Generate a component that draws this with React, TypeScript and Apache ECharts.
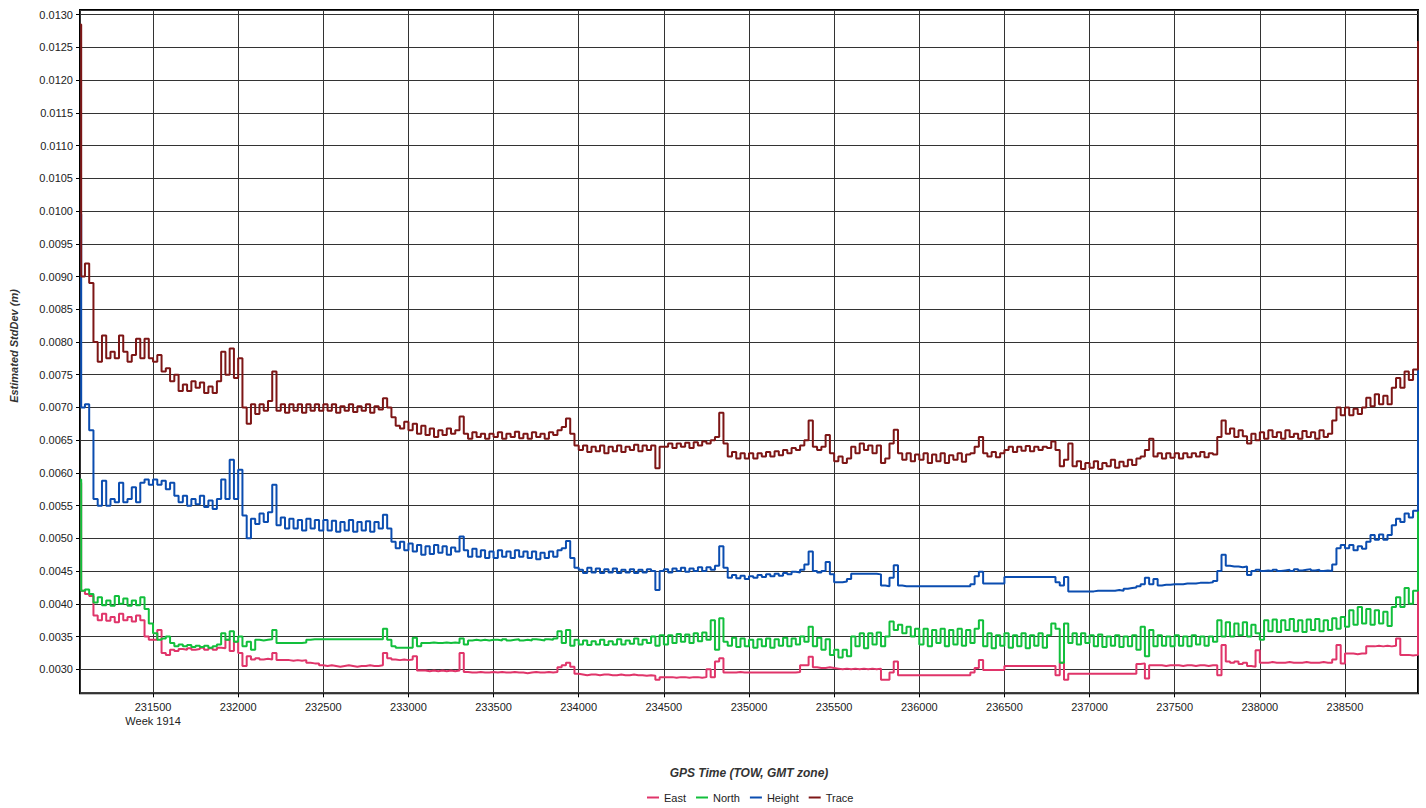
import React, { useEffect, useRef } from "react";
import * as echarts from "echarts";

// ---- data (values in millimetres, converted to metres for the chart) ----
const SERIES_NAMES = ["East", "North", "Height", "Trace"];
const SERIES_COLORS = ["#e0356a", "#12bf3c", "#0b4db0", "#7d1616"];

const X_MIN = 231071;
const X_MAX = 238929;
const Y_MIN = 0.002633;
const Y_MAX = 0.013072;
const WEEK_LABEL = "Week 1914";
const X_NAME = "GPS Time (TOW, GMT zone)";
const Y_NAME = "Estimated StdDev (m)";

const ROW_STARTS = [231100, 231500, 232000, 232500, 233000, 233500, 234000, 234500, 235000, 235500, 236000, 236500, 237000, 237500, 238000, 238500];
const SAMPLE_STEP = 25;

const EAST_HEAD = [[231072, 5.85], [231078, 4.2]];
const EAST_TAIL = [[238929, 5.05]];
const EAST_ROWS = [
  [4.15, 4.12, 3.82, 3.75, 3.85, 3.74, 3.8, 3.72, 3.85, 3.75, 3.8, 3.73, 3.82, 3.75, 3.5, 3.45],
  [3.45, 3.6, 3.25, 3.22, 3.3, 3.28, 3.31, 3.3, 3.32, 3.3, 3.31, 3.33, 3.3, 3.32, 3.3, 3.33, 3.32, 3.45, 3.28, 3.42],
  [3.25, 3.05, 3.2, 3.15, 3.17, 3.15, 3.16, 3.15, 3.25, 3.14, 3.14, 3.14, 3.13, 3.14, 3.13, 3.14, 3.1, 3.09, 3.09, 3.06],
  [3.05, 3.06, 3.05, 3.04, 3.05, 3.06, 3.05, 3.04, 3.05, 3.05, 3.06, 3.05, 3.05, 3.06, 3.25, 3.17, 3.15, 3.14, 3.15, 3.14],
  [3.15, 3.2, 2.98, 2.98, 2.97, 2.98, 2.97, 2.98, 2.97, 2.98, 2.97, 2.98, 3.25, 2.96, 2.95, 2.95, 2.96, 2.95, 2.95, 2.96],
  [2.95, 2.96, 2.95, 2.95, 2.96, 2.95, 2.95, 2.94, 2.95, 2.96, 2.95, 2.95, 2.96, 2.95, 2.96, 3.03, 3.06, 3.1, 3.04, 2.93],
  [2.92, 2.91, 2.92, 2.92, 2.91, 2.92, 2.92, 2.91, 2.91, 2.92, 2.91, 2.91, 2.92, 2.91, 2.91, 2.9, 2.91, 2.9, 2.84, 2.88],
  [2.88, 2.88, 2.87, 2.88, 2.88, 2.87, 2.88, 2.88, 2.87, 2.88, 3.0, 2.88, 3.12, 3.17, 2.95, 2.95, 2.95, 2.96, 2.95, 2.95],
  [2.95, 2.95, 2.95, 2.95, 2.95, 2.95, 2.95, 2.95, 2.95, 2.95, 2.95, 2.96, 3.06, 3.06, 3.19, 3.03, 3.02, 3.02, 3.03, 3.02],
  [3.01, 3.0, 3.01, 3.0, 3.01, 3.0, 3.01, 3.0, 3.01, 3.0, 3.01, 2.84, 2.84, 2.95, 3.12, 2.91, 2.91, 2.91, 2.91, 2.91],
  [2.91, 2.91, 2.91, 2.91, 2.91, 2.91, 2.91, 2.91, 2.91, 2.91, 2.91, 2.91, 2.95, 3.02, 3.14, 2.99, 2.99, 2.99, 2.99, 2.99],
  [3.05, 3.05, 3.05, 3.05, 3.05, 3.05, 3.05, 3.05, 3.05, 3.05, 3.05, 3.05, 2.91, 3.1, 2.84, 2.93, 2.93, 2.93, 2.93, 2.93],
  [2.93, 2.93, 2.93, 2.93, 2.93, 2.93, 2.93, 2.93, 2.93, 2.93, 2.93, 3.08, 3.09, 2.86, 3.06, 3.06, 3.06, 3.05, 3.06, 3.06],
  [3.06, 3.05, 3.06, 3.06, 3.05, 3.06, 3.06, 3.05, 3.06, 3.06, 2.91, 3.37, 3.12, 3.1, 3.12, 3.08, 3.1, 3.05, 3.04, 3.29],
  [3.1, 3.1, 3.11, 3.1, 3.1, 3.1, 3.11, 3.1, 3.1, 3.1, 3.11, 3.1, 3.1, 3.1, 3.11, 3.1, 3.1, 3.15, 3.37, 3.09],
  [3.24, 3.24, 3.23, 3.24, 3.24, 3.35, 3.35, 3.36, 3.35, 3.36, 3.35, 3.36, 3.47, 3.22, 3.22, 3.21, 3.22],
];

const NORTH_HEAD = [[231072, 5.9], [231078, 4.2]];
const NORTH_TAIL = [[238929, 6.75]];
const NORTH_ROWS = [
  [4.22, 4.15, 4.02, 4.1, 3.98, 4.05, 3.97, 4.12, 4.0, 4.08, 3.97, 4.05, 3.98, 4.1, 3.92, 3.7],
  [3.55, 3.45, 3.47, 3.5, 3.4, 3.35, 3.38, 3.35, 3.37, 3.34, 3.36, 3.34, 3.36, 3.33, 3.35, 3.38, 3.55, 3.45, 3.58, 3.42],
  [3.5, 3.35, 3.42, 3.3, 3.45, 3.44, 3.45, 3.46, 3.6, 3.4, 3.4, 3.4, 3.4, 3.4, 3.4, 3.41, 3.45, 3.46, 3.46, 3.46],
  [3.46, 3.46, 3.46, 3.46, 3.46, 3.46, 3.46, 3.46, 3.46, 3.46, 3.46, 3.46, 3.46, 3.46, 3.62, 3.45, 3.35, 3.33, 3.33, 3.33],
  [3.33, 3.48, 3.35, 3.4, 3.4, 3.41, 3.4, 3.4, 3.41, 3.4, 3.41, 3.4, 3.47, 3.38, 3.44, 3.45, 3.44, 3.45, 3.44, 3.45],
  [3.45, 3.44, 3.46, 3.44, 3.45, 3.46, 3.44, 3.45, 3.44, 3.46, 3.45, 3.44, 3.46, 3.45, 3.47, 3.58, 3.4, 3.6, 3.36, 3.45],
  [3.38, 3.44, 3.37, 3.43, 3.38, 3.45, 3.37, 3.43, 3.38, 3.46, 3.38, 3.44, 3.39, 3.47, 3.38, 3.45, 3.4, 3.5, 3.36, 3.52],
  [3.38, 3.52, 3.4, 3.54, 3.42, 3.53, 3.4, 3.55, 3.43, 3.56, 3.45, 3.75, 3.3, 3.78, 3.42, 3.36, 3.48, 3.34, 3.47, 3.35],
  [3.45, 3.33, 3.46, 3.35, 3.47, 3.33, 3.46, 3.36, 3.48, 3.35, 3.47, 3.38, 3.5, 3.42, 3.65, 3.35, 3.48, 3.3, 3.46, 3.22],
  [3.3, 3.18, 3.3, 3.2, 3.5, 3.35, 3.55, 3.32, 3.55, 3.38, 3.56, 3.35, 3.5, 3.73, 3.6, 3.68, 3.55, 3.65, 3.5, 3.62],
  [3.38, 3.62, 3.35, 3.6, 3.4, 3.62, 3.35, 3.6, 3.38, 3.62, 3.36, 3.6, 3.4, 3.62, 3.75, 3.35, 3.55, 3.32, 3.52, 3.36],
  [3.55, 3.33, 3.52, 3.35, 3.55, 3.32, 3.52, 3.36, 3.55, 3.33, 3.52, 3.7, 3.62, 3.1, 3.7, 3.4, 3.55, 3.38, 3.55, 3.4],
  [3.52, 3.35, 3.53, 3.34, 3.5, 3.36, 3.52, 3.34, 3.5, 3.35, 3.52, 3.3, 3.65, 3.2, 3.6, 3.35, 3.52, 3.36, 3.5, 3.35],
  [3.52, 3.36, 3.5, 3.35, 3.52, 3.38, 3.5, 3.36, 3.5, 3.42, 3.75, 3.5, 3.72, 3.5, 3.7, 3.52, 3.72, 3.5, 3.68, 3.55],
  [3.45, 3.75, 3.58, 3.76, 3.57, 3.75, 3.6, 3.77, 3.58, 3.75, 3.57, 3.76, 3.6, 3.77, 3.58, 3.75, 3.6, 3.78, 3.62, 3.8],
  [3.65, 3.9, 3.68, 3.95, 3.7, 3.92, 3.68, 3.9, 3.7, 3.88, 3.66, 3.95, 4.1, 3.95, 4.24, 4.0, 4.2],
];

const HEIGHT_HEAD = [[231072, 9.95], [231078, 7.0]];
const HEIGHT_TAIL = [[238929, 9.4]];
const HEIGHT_ROWS = [
  [7.05, 6.65, 5.6, 5.5, 5.88, 5.5, 5.6, 5.55, 5.85, 5.55, 5.6, 5.78, 5.55, 5.85, 5.9, 5.82],
  [5.9, 5.82, 5.88, 5.75, 5.85, 5.65, 5.55, 5.65, 5.5, 5.6, 5.52, 5.65, 5.48, 5.58, 5.45, 5.6, 5.9, 5.6, 6.2, 5.6],
  [6.05, 5.35, 5.0, 5.3, 5.22, 5.38, 5.25, 5.4, 5.82, 5.2, 5.32, 5.15, 5.3, 5.15, 5.28, 5.12, 5.3, 5.15, 5.28, 5.12],
  [5.28, 5.12, 5.27, 5.1, 5.25, 5.12, 5.28, 5.1, 5.25, 5.12, 5.26, 5.1, 5.25, 5.15, 5.36, 5.15, 4.95, 4.85, 4.95, 4.82],
  [4.92, 4.8, 4.9, 4.75, 4.88, 4.76, 4.9, 4.78, 4.88, 4.75, 4.86, 4.8, 5.03, 4.82, 4.72, 4.84, 4.72, 4.82, 4.7, 4.8],
  [4.7, 4.82, 4.72, 4.8, 4.7, 4.82, 4.72, 4.8, 4.7, 4.8, 4.68, 4.78, 4.7, 4.8, 4.72, 4.82, 4.85, 4.96, 4.7, 4.55],
  [4.52, 4.47, 4.55, 4.48, 4.54, 4.47, 4.53, 4.48, 4.54, 4.47, 4.52, 4.48, 4.53, 4.47, 4.52, 4.48, 4.53, 4.5, 4.21, 4.5],
  [4.53, 4.48, 4.54, 4.5, 4.55, 4.49, 4.54, 4.5, 4.56, 4.5, 4.56, 4.52, 4.58, 4.88, 4.55, 4.4, 4.44, 4.39, 4.43, 4.38],
  [4.42, 4.4, 4.44, 4.41, 4.45, 4.42, 4.46, 4.43, 4.47, 4.45, 4.49, 4.48, 4.52, 4.6, 4.8, 4.5, 4.48, 4.5, 4.64, 4.45],
  [4.33, 4.33, 4.34, 4.38, 4.46, 4.46, 4.46, 4.46, 4.46, 4.46, 4.45, 4.28, 4.27, 4.4, 4.59, 4.28, 4.27, 4.27, 4.27, 4.27],
  [4.27, 4.27, 4.27, 4.27, 4.27, 4.27, 4.27, 4.27, 4.27, 4.27, 4.27, 4.27, 4.3, 4.42, 4.49, 4.31, 4.31, 4.31, 4.31, 4.31],
  [4.41, 4.41, 4.41, 4.41, 4.41, 4.41, 4.41, 4.41, 4.41, 4.41, 4.41, 4.41, 4.33, 4.28, 4.41, 4.19, 4.19, 4.19, 4.19, 4.19],
  [4.19, 4.2, 4.2, 4.2, 4.2, 4.2, 4.21, 4.2, 4.23, 4.24, 4.25, 4.27, 4.3, 4.4, 4.3, 4.38, 4.28, 4.29, 4.29, 4.3],
  [4.3, 4.3, 4.31, 4.31, 4.31, 4.32, 4.32, 4.32, 4.33, 4.35, 4.5, 4.75, 4.58, 4.57, 4.57, 4.56, 4.57, 4.44, 4.5, 4.52],
  [4.5, 4.51, 4.5, 4.52, 4.5, 4.51, 4.52, 4.5, 4.53, 4.51, 4.52, 4.53, 4.51, 4.52, 4.5, 4.51, 4.5, 4.6, 4.85, 4.9],
  [4.85, 4.9, 4.82, 4.88, 4.84, 4.95, 5.05, 4.98, 5.06, 4.98, 5.05, 5.2, 5.3, 5.25, 5.38, 5.32, 5.42],
];

const TRACE_HEAD = [[231072, 12.85], [231078, 9.0]];
const TRACE_TAIL = [[238929, 12.6]];
const TRACE_ROWS = [
  [9.2, 8.9, 8.0, 7.7, 8.1, 7.75, 7.85, 7.75, 8.1, 7.85, 7.7, 7.8, 8.05, 7.75, 8.05, 7.75],
  [7.7, 7.8, 7.55, 7.6, 7.4, 7.5, 7.25, 7.35, 7.25, 7.4, 7.3, 7.38, 7.22, 7.32, 7.22, 7.4, 7.85, 7.5, 7.9, 7.45],
  [7.75, 7.0, 6.75, 7.05, 6.9, 7.05, 6.95, 7.1, 7.55, 6.95, 7.05, 6.92, 7.05, 6.95, 7.05, 6.92, 7.05, 6.95, 7.05, 6.95],
  [7.05, 6.95, 7.05, 6.92, 7.02, 6.95, 7.05, 6.93, 7.02, 6.95, 7.05, 6.92, 7.02, 6.97, 7.14, 7.0, 6.85, 6.72, 6.68, 6.78],
  [6.65, 6.75, 6.6, 6.72, 6.58, 6.68, 6.55, 6.65, 6.58, 6.68, 6.6, 6.65, 6.86, 6.6, 6.52, 6.62, 6.55, 6.6, 6.52, 6.6],
  [6.55, 6.62, 6.52, 6.6, 6.55, 6.63, 6.53, 6.6, 6.52, 6.62, 6.55, 6.6, 6.52, 6.62, 6.58, 6.65, 6.7, 6.83, 6.6, 6.42],
  [6.35, 6.42, 6.32, 6.4, 6.33, 6.42, 6.3, 6.4, 6.33, 6.42, 6.32, 6.4, 6.35, 6.43, 6.33, 6.42, 6.35, 6.42, 6.07, 6.4],
  [6.4, 6.45, 6.38, 6.45, 6.4, 6.46, 6.38, 6.47, 6.42, 6.48, 6.45, 6.5, 6.55, 6.92, 6.45, 6.25, 6.32, 6.22, 6.3, 6.22],
  [6.3, 6.22, 6.3, 6.25, 6.32, 6.25, 6.33, 6.27, 6.35, 6.3, 6.38, 6.35, 6.42, 6.5, 6.8, 6.4, 6.35, 6.4, 6.58, 6.3],
  [6.18, 6.25, 6.15, 6.22, 6.4, 6.3, 6.45, 6.35, 6.42, 6.3, 6.42, 6.15, 6.22, 6.45, 6.66, 6.3, 6.2, 6.3, 6.18, 6.28],
  [6.2, 6.3, 6.15, 6.28, 6.18, 6.3, 6.15, 6.27, 6.2, 6.3, 6.17, 6.28, 6.3, 6.4, 6.55, 6.3, 6.25, 6.32, 6.24, 6.3],
  [6.35, 6.4, 6.32, 6.4, 6.34, 6.41, 6.33, 6.4, 6.35, 6.4, 6.38, 6.48, 6.35, 6.1, 6.2, 6.45, 6.1, 6.18, 6.06, 6.15],
  [6.08, 6.18, 6.06, 6.15, 6.1, 6.2, 6.08, 6.17, 6.1, 6.2, 6.12, 6.22, 6.25, 6.35, 6.52, 6.25, 6.3, 6.22, 6.3, 6.23],
  [6.3, 6.22, 6.3, 6.24, 6.3, 6.25, 6.32, 6.24, 6.3, 6.28, 6.55, 6.8, 6.6, 6.68, 6.55, 6.65, 6.56, 6.45, 6.6, 6.5],
  [6.62, 6.52, 6.65, 6.55, 6.62, 6.52, 6.65, 6.55, 6.6, 6.52, 6.64, 6.55, 6.62, 6.52, 6.65, 6.55, 6.6, 6.8, 7.0, 6.88],
  [7.0, 6.88, 6.98, 6.9, 7.0, 7.15, 7.02, 7.2, 7.05, 7.18, 7.05, 7.3, 7.45, 7.3, 7.55, 7.42, 7.58],
];

function buildData(head: number[][], rows: number[][], tail: number[][]) {
  const pts: number[][] = [];
  head.forEach(([t, v]) => pts.push([t, v / 1000]));
  rows.forEach((row, r) => {
    row.forEach((v, j) => pts.push([ROW_STARTS[r] + j * SAMPLE_STEP, v / 1000]));
  });
  tail.forEach(([t, v]) => pts.push([t, v / 1000]));
  return pts;
}

const FONT = "Arial, 'Liberation Sans', sans-serif";

export default function App() {
  const ref = useRef<HTMLDivElement>(null);
  useEffect(() => {
    if (!ref.current) return;
    const chart = echarts.init(ref.current, undefined, { renderer: "svg" });
    const seriesData = [
      buildData(EAST_HEAD, EAST_ROWS, EAST_TAIL),
      buildData(NORTH_HEAD, NORTH_ROWS, NORTH_TAIL),
      buildData(HEIGHT_HEAD, HEIGHT_ROWS, HEIGHT_TAIL),
      buildData(TRACE_HEAD, TRACE_ROWS, TRACE_TAIL),
    ];
    chart.setOption({
      animation: false,
      backgroundColor: "#ffffff",
      grid: {
        left: 80,
        top: 10,
        right: 8,
        bottom: 114.7,
        show: true,
        borderColor: "#000",
        borderWidth: 2,
        backgroundColor: "transparent",
      },
      legend: {
        data: SERIES_NAMES,
        left: 642,
        top: 787,
        padding: 5,
        icon: "rect",
        itemWidth: 12,
        itemHeight: 2,
        itemGap: 10,
        textStyle: { fontFamily: FONT, fontSize: 11, color: "#222" },
      },
      xAxis: {
        type: "value",
        min: X_MIN,
        max: X_MAX,
        minInterval: 500,
        maxInterval: 500,
        axisLine: { show: false },
        axisTick: { show: true, length: 4, lineStyle: { color: "#000" } },
        axisLabel: {
          showMinLabel: false,
          showMaxLabel: false,
          margin: 7,
          fontFamily: FONT,
          fontSize: 11,
          color: "#222",
          lineHeight: 14,
          formatter: (v: number) => (Math.round(v) === 231500 ? `${Math.round(v)}\n${WEEK_LABEL}` : String(Math.round(v))),
        },
        splitLine: { show: true, lineStyle: { color: "#333", width: 1 } },
      },
      yAxis: {
        type: "value",
        min: Y_MIN,
        max: Y_MAX,
        minInterval: 0.0005,
        maxInterval: 0.0005,
        axisLine: { show: false },
        axisTick: { show: true, length: 4, lineStyle: { color: "#000" } },
        axisLabel: {
          showMinLabel: false,
          showMaxLabel: false,
          margin: 7,
          fontFamily: FONT,
          fontSize: 11,
          color: "#222",
          formatter: (v: number) => v.toFixed(4),
        },
        splitLine: { show: true, lineStyle: { color: "#333", width: 1 } },
      },
      graphic: [
        {
          type: "text",
          x: 749,
          y: 773,
          style: {
            text: X_NAME,
            font: `italic bold 12px ${FONT}`,
            fill: "#333",
            textAlign: "center",
            textVerticalAlign: "middle",
            align: "center",
            verticalAlign: "middle",
          },
        },
        {
          type: "text",
          x: 14,
          y: 346,
          rotation: Math.PI / 2,
          style: {
            text: Y_NAME,
            font: `italic bold 11px ${FONT}`,
            fill: "#333",
            textAlign: "center",
            textVerticalAlign: "middle",
            align: "center",
            verticalAlign: "middle",
          },
        },
      ],
      series: SERIES_NAMES.map((name, i) => ({
        name,
        type: "line",
        step: "end",
        showSymbol: false,
        symbol: "none",
        data: seriesData[i],
        color: SERIES_COLORS[i],
        lineStyle: { width: 2, color: SERIES_COLORS[i] },
        emphasis: { disabled: true },
      })),
    });
    return () => chart.dispose();
  }, []);
  return (
    <div
      ref={ref}
      style={{ position: "absolute", left: 0, top: 0, width: 1426, height: 808, background: "#fff" }}
    />
  );
}
